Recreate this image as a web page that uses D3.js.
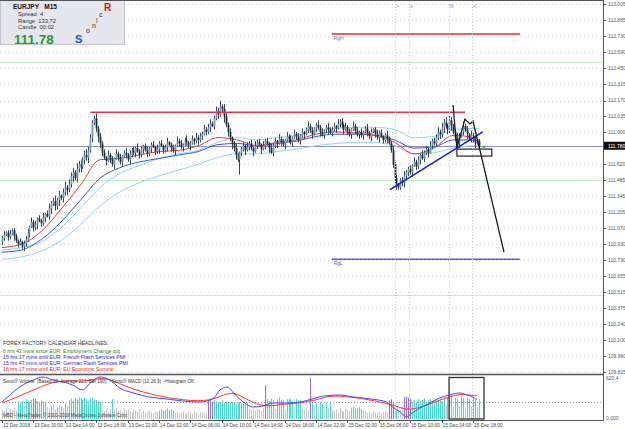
<!DOCTYPE html>
<html>
<head>
<meta charset="utf-8">
<script src="https://cdn.jsdelivr.net/npm/d3@7"></script>
<style>
  body { margin: 0; background: #fff; }
  svg { display: block; font-family: "Liberation Sans", Arial, sans-serif; }
</style>
</head>
<body>
<div id="chart"></div>
<script>
// EURJPY M15 closes, one per bar (bar 0 = left edge)
var firstOpen = 110.95;
var closes = [
  110.98,111.01,111.03,110.99,111.02,111.05,111.00,110.96,110.93,110.95,110.91,110.94,110.97,
  111.03,111.08,111.12,111.07,111.10,111.15,111.13,111.11,111.16,111.19,111.17,
  111.24,111.28,111.30,111.26,111.31,111.35,111.33,111.38,111.42,111.40,111.45,
  111.52,111.55,111.50,111.58,111.62,111.60,111.66,111.70,111.68,111.74,
  111.85,111.98,112.02,111.93,111.86,111.80,
  111.72,111.68,111.65,111.70,111.66,111.62,111.67,111.71,111.68,111.64,111.69,111.72,111.70,111.66,111.71,
  111.74,111.72,111.76,111.73,111.70,111.75,111.78,111.74,111.71,111.76,111.79,111.77,111.73,111.75,111.80,
  111.78,111.74,111.77,111.81,111.79,111.76,111.74,111.78,111.82,111.80,111.77,111.79,111.83,111.81,111.78,
  111.80,111.84,111.82,111.85,111.83,
  111.86,111.88,111.92,111.90,111.94,111.97,111.95,
  112.02,112.08,112.05,112.12,112.10,112.03,
  111.96,111.90,111.85,111.80,111.76,111.70,111.66,111.72,
  111.75,111.78,111.74,111.77,111.80,111.76,111.73,111.78,111.81,111.79,111.75,111.78,111.82,111.80,111.76,111.72,
  111.78,111.82,111.80,111.84,111.81,111.79,111.83,111.86,111.84,111.81,111.85,111.88,111.86,111.83,111.87,
  111.90,111.88,111.92,111.95,111.91,111.88,111.93,111.96,111.94,111.90,111.87,111.91,111.94,111.92,111.89,
  111.92,111.95,111.93,111.97,111.99,111.96,111.92,111.94,111.90,111.88,111.92,111.95,111.91,111.88,111.90,
  111.87,111.90,111.93,111.89,111.86,111.90,111.92,111.88,111.85,111.89,111.86,111.83,111.87,111.84,111.80,
  111.74,111.62,111.50,111.45,111.42,111.48,111.46,111.52,111.55,
  111.58,111.55,111.61,111.64,111.60,111.66,111.70,111.67,111.72,111.75,111.72,111.78,111.82,111.80,
  111.85,111.90,111.88,111.94,111.98,111.95,111.92,112.00,111.96,111.90,
  111.85,111.80,111.86,111.90,111.95,111.92,111.88,111.84,111.87,111.83,111.80,111.82,111.78
];
// wick lengths above / below the body, in 0.01 (base-36 digit per bar)
var upWick =
  "2312312213123" + "31423132413" + "42352413524" + "3425342453" + "322423" +
  "231423142312423" + "23142312412314231241231423124123142" + "3242342" + "243524" +
  "32312421" + "2314231423142314" + "231423142314231" + "312423124231242" +
  "231423142314231" + "312423124231242" + "242312342" + "23142314231423" +
  "3424352431" + "2431423142312";
var loWick =
  "3213214231243" + "24132413241" + "35243524352" + "3524352435" + "242354" +
  "324132413241324" + "32413241324132413241324132413241324" + "2313241" + "324235" +
  "2435342d" + "3241324132413241" + "324132413241324" + "241324132413241" +
  "324132413241324" + "241324132413241" + "234522343" + "32413241324132" +
  "3243524352" + "3241324132413";

// Sonic volume per bar and its colour class (g grey, t turquoise, p purple)
var volumes = [
  140,120,160,110,150,130,170,120,
  260,240,280,250,300,270,260,290,310,300,270,250,280,260,240,
  180,160,200,220,150,170,210,190,160,230,200,
  290,310,280,320,300,330,310,290,320,300,280,310,330,300,290,270,260,
  140,120,160,110,150,300,130,170,120,140,110,160,130,150,120,100,140,130,110,150,
  100,120,90,110,130,100,90,120,110,
  130,150,120,140,160,130,150,120,
  90,110,80,100,120,70,90,110,100,80,120,90,70,100,110,90,80,
  280,300,260,290,270,250,260,280,240,270,250,
  240,260,250,230,250,260,240,230,220,250,
  150,140,160,130,150,140,120,160,
  513,
  300,280,310,290,150,300,320,290,280,140,300,310,290,270,160,300,280,290,
  150,130,160,140,
  620,
  250,160,240,150,260,230,140,250,160,240,150,
  120,150,100,170,130,110,160,140,120,170,180,160,170,180,150,130,120,
  90,110,80,120,100,90,110,80,100,120,90,
  280,300,260,
  120,150,130,140,
  200,330,340,320,300,
  260,280,250,300,270,290,310,260,280,300,250,290,310,280,300,270,
  330,200,320,310,360,180,320,300,190,330,310,170,320,300,190,310,290,180,300
];
var volColors =
  "gggggggg" + "tttgttttppttttt" + "ggtggtgtgtg" + "ttttttttttttttttt" +
  "gggggtgggggggggggggg" + "ggggggggg" + "tttttttt" + "ggggggggggggggggg" +
  "ppptttttttt" + "tttttttttt" + "gggggggg" + "p" + "ttttgttttgttttgttt" +
  "gggg" + "p" + "tgtgttgtgtg" + "gggggggggttttttgg" + "ggggggggggg" +
  "ppp" + "gtgg" + "gpppp" + "tttttttttttttttt" + "tgtttgttgttgttgttgt";

var timeLabels = ["12 Dec 2018","13 Dec 10:00","13 Dec 14:00","13 Dec 18:00","13 Dec 22:00",
  "14 Dec 02:00","14 Dec 06:00","14 Dec 10:00","14 Dec 14:00","14 Dec 18:00","14 Dec 22:00",
  "15 Dec 02:00","15 Dec 06:00","15 Dec 10:00","15 Dec 14:00","15 Dec 18:00"];
var priceTicks = [113.005,112.865,112.730,112.590,112.450,112.315,112.170,112.035,111.900,
  111.620,111.485,111.345,111.205,111.070,110.930,110.790,110.655,110.515,110.375,110.240,
  110.100,109.960,109.825];
var lastPrice = 111.78;

// moving averages, read every 10 bars
var maBars = [0,10,20,30,40,50,60,70,80,90,100,110,120,130,140,150,160,170,180,190,200,210,220,230,240,243];
var redMA = [110.90,110.93,111.04,111.23,111.44,111.66,111.67,111.70,111.73,111.74,111.78,111.85,111.83,
  111.78,111.81,111.83,111.88,111.90,111.89,111.87,111.81,111.71,111.76,111.87,111.85,111.83];
var blueMA = [110.86,110.88,110.97,111.12,111.31,111.50,111.59,111.64,111.67,111.70,111.73,111.79,111.80,
  111.78,111.80,111.82,111.86,111.88,111.88,111.87,111.83,111.76,111.77,111.83,111.83,111.82];
var cyanUpper = [110.88,110.90,110.95,111.07,111.24,111.42,111.54,111.61,111.67,111.71,111.74,111.81,111.85,
  111.83,111.85,111.87,111.91,111.93,111.94,111.94,111.92,111.85,111.86,111.92,111.93,111.93];
var cyanLower = [110.80,110.82,110.87,110.96,111.10,111.26,111.38,111.46,111.52,111.57,111.62,111.68,111.71,
  111.71,111.73,111.75,111.78,111.80,111.81,111.81,111.78,111.71,111.72,111.76,111.78,111.78];

// MACD lines in the lower window
var macdBlueBars = [0,4,9,16,21,26,31,36,41,45,50,55,60,67,75,84,92,101,108,111,115,118,123,128,133,
  138,145,152,158,164,172,179,188,196,199,203,206,209,213,218,223,228,233,237,240,242];
var macdBlue = [-0.0125,0.005,0.025,0.0425,0.05,0.0425,0.0375,0.03,0.0175,0.035,0.05,0.0425,0.0225,0.01,0,
  -0.005,-0.01,-0.0125,-0.0025,0.0175,0.025,0.01,-0.0125,-0.025,-0.0225,-0.015,-0.015,-0.0125,-0.005,0.0025,
  0.005,0,-0.005,-0.0125,-0.025,-0.0375,-0.05,-0.04,-0.0275,-0.015,-0.0025,0.005,0.01,0.005,0,-0.0075];
var macdRedBars = [0,8,16,24,33,41,50,55,67,84,101,110,116,121,128,135,143,152,160,167,172,182,193,201,
  206,212,217,223,228,233,238,242];
var macdRed = [-0.015,0,0.0175,0.035,0.0425,0.0375,0.0475,0.045,0.0175,-0.0025,-0.0125,-0.0025,0.0125,0.005,
  -0.015,-0.025,-0.0175,-0.015,-0.0075,0.0025,0.0025,-0.0025,-0.0125,-0.0225,-0.0325,-0.0275,-0.02,-0.0075,
  0,0.0075,0.005,0.0025];

// drawn objects: [bar, price]
var resistanceLine = [[45,112.07],[236,112.07]];
var rgHLine = [[168,112.745],[264,112.745]];
var rgLLine = [[168,110.80],[264,110.80]];
var trendLine = [[197.7,111.40],[245,111.90]];
var zigzag = [[229.8,112.132],[231.8,111.76],[235.9,112.011],[238.5,111.968],[240,111.994],[255.8,110.862]];
var boxBars = [231.8,249.6], boxPrices = [111.751,111.691];
var greenDot = [245.6,111.77];
var pivotLevels = [112.50,111.48,110.49];
var sessionBars = [200.3,207.4,227.8,239.5];
var sessionMarks = [">","s","N","<"];
var volBoxBars = [227.8,245.6];

var headlines = [
  {t: "FOREX FACTORY CALENDAR  HEADLINES:", c: "#333"},
  {t: "6 hrs 43 mins since EUR: Employment Change q/q", c: "#2a8a2a"},
  {t: "15 hrs 17 mins until EUR: French Flash Services PMI", c: "#2a2ad0"},
  {t: "15 hrs 47 mins until EUR: German Flash Services PMI", c: "#2a2ad0"},
  {t: "16 hrs 17 mins until EUR: EU Economic Summit", c: "#e02020"}
];

var W = 625, H = 429, plotR = 603, priceBottom = 374, volTop = 376, volBottom = 420;

var svg = d3.select("#chart").append("svg").attr("width", W).attr("height", H);
svg.append("rect").attr("width", W).attr("height", H).attr("fill", "#fff");

var x = d3.scaleLinear().domain([0, 243]).range([2, 2 + 243 * 1.9625]);
var y = d3.scaleLinear().domain([109.825, 113.005]).range([372, 4]);
var yv = d3.scaleLinear().domain([0, 620.4]).range([419, 378]);
var ym = d3.scaleLinear().domain([-0.05, 0.05]).range([417, 377]);

var defs = svg.append("defs");
defs.append("clipPath").attr("id", "clipP").append("rect").attr("width", plotR).attr("height", priceBottom);
defs.append("clipPath").attr("id", "clipV").append("rect").attr("y", volTop).attr("width", plotR).attr("height", volBottom - volTop);

var gp = svg.append("g").attr("clip-path", "url(#clipP)");

// grid
gp.selectAll(".grid").data(priceTicks).enter().append("line")
  .attr("x1", 0).attr("x2", plotR)
  .attr("y1", function(d) { return Math.round(y(d)) + 0.5; })
  .attr("y2", function(d) { return Math.round(y(d)) + 0.5; })
  .attr("stroke", "#cfcfd8").attr("stroke-dasharray", "1,3");

// pivot-like light green levels
gp.selectAll(".pivot").data(pivotLevels).enter().append("line")
  .attr("x1", 0).attr("x2", plotR)
  .attr("y1", function(d) { return Math.round(y(d)) + 0.5; })
  .attr("y2", function(d) { return Math.round(y(d)) + 0.5; })
  .attr("stroke", "#c6ecc6");

// session separators
svg.selectAll(".sess").data(sessionBars).enter().append("line")
  .attr("x1", function(d) { return Math.round(x(d)) + 0.5; })
  .attr("x2", function(d) { return Math.round(x(d)) + 0.5; })
  .attr("y1", 1).attr("y2", volBottom)
  .attr("stroke", "#c8c8d6").attr("stroke-dasharray", "1,2");
svg.selectAll(".sessMark").data(sessionBars).enter().append("text")
  .attr("x", function(d) { return x(d) + 1; }).attr("y", 8)
  .attr("font-size", 5).attr("fill", "#8a6ad0")
  .text(function(d, i) { return sessionMarks[i]; });

// bid line
gp.append("line").attr("x1", 0).attr("x2", plotR)
  .attr("y1", Math.round(y(lastPrice)) + 0.5).attr("y2", Math.round(y(lastPrice)) + 0.5)
  .attr("stroke", "#8f8fc4");

// moving averages
var maLine = function(vals) {
  return d3.line().curve(d3.curveMonotoneX)
    .x(function(d, i) { return x(maBars[i]); })
    .y(function(d) { return y(d); })(vals);
};
[[cyanLower, "#8fd3f5"], [cyanUpper, "#8fd3f5"], [blueMA, "#3555e6"], [redMA, "#e8383c"]].forEach(function(s) {
  gp.append("path").attr("d", maLine(s[0])).attr("fill", "none").attr("stroke", s[1]).attr("stroke-width", 1);
});

// candles
var bars = closes.map(function(c, i) {
  var o = i === 0 ? firstOpen : closes[i - 1];
  return {
    i: i, o: o, c: c,
    h: Math.max(o, c) + parseInt(upWick[i], 36) / 100,
    l: Math.min(o, c) - parseInt(loWick[i], 36) / 100
  };
});
var cg = gp.append("g");
cg.selectAll(".wick").data(bars).enter().append("line")
  .attr("x1", function(d) { return Math.round(x(d.i)) + 0.5; })
  .attr("x2", function(d) { return Math.round(x(d.i)) + 0.5; })
  .attr("y1", function(d) { return y(d.h); })
  .attr("y2", function(d) { return y(d.l); })
  .attr("stroke", "#34465a").attr("stroke-width", 1);
cg.selectAll(".body").data(bars).enter().append("rect")
  .attr("x", function(d) { return Math.round(x(d.i)) - 0.4; })
  .attr("width", 1.8)
  .attr("y", function(d) { return y(Math.max(d.o, d.c)); })
  .attr("height", function(d) { return Math.max(1, Math.abs(y(d.o) - y(d.c))); })
  .attr("fill", function(d) { return d.c >= d.o ? "#7896b4" : "#1d2a36"; });

// drawn objects
var pl = d3.line().x(function(d) { return x(d[0]); }).y(function(d) { return y(d[1]); });
gp.append("path").attr("d", pl(resistanceLine)).attr("stroke", "#e8304a").attr("stroke-width", 1.5).attr("fill", "none");
gp.append("path").attr("d", pl(rgHLine)).attr("stroke", "#f06060").attr("stroke-width", 2).attr("fill", "none");
gp.append("path").attr("d", pl(rgLLine)).attr("stroke", "#5a5ad8").attr("stroke-width", 1.5).attr("fill", "none");
gp.append("text").attr("x", x(rgHLine[0][0]) + 2).attr("y", y(rgHLine[0][1]) + 6)
  .attr("font-size", 5).attr("fill", "#7a6aa8").text("RgH");
gp.append("text").attr("x", x(rgLLine[0][0]) + 2).attr("y", y(rgLLine[0][1]) + 6)
  .attr("font-size", 5).attr("fill", "#5a5ab8").text("RgL");
gp.append("path").attr("d", pl(trendLine)).attr("stroke", "#1a1ad0").attr("stroke-width", 1.5).attr("fill", "none");
gp.append("path").attr("d", pl(zigzag)).attr("stroke", "#111").attr("stroke-width", 1.2).attr("fill", "none");
gp.append("rect")
  .attr("x", x(boxBars[0])).attr("y", y(boxPrices[0]))
  .attr("width", x(boxBars[1]) - x(boxBars[0])).attr("height", y(boxPrices[1]) - y(boxPrices[0]))
  .attr("fill", "none").attr("stroke", "#222").attr("stroke-width", 1.2);
gp.append("circle").attr("cx", x(greenDot[0])).attr("cy", y(greenDot[1])).attr("r", 1.5).attr("fill", "#22cc22");

// info box
var info = svg.append("g");
info.append("rect").attr("x", 0.5).attr("y", 0.5).attr("width", 124).attr("height", 44)
  .attr("fill", "#e6e6ef").attr("stroke", "#c4c4d4");
info.append("text").attr("x", 13).attr("y", 9).attr("font-size", 6.5).attr("font-weight", "bold")
  .attr("fill", "#111").style("white-space", "pre").text("EURJPY   M15");
[["Spread  4", 16], ["Range  133,72", 22.5], ["Candle  00:02", 29]].forEach(function(r) {
  info.append("text").attr("x", 18).attr("y", r[1]).attr("font-size", 5.8).attr("fill", "#333")
    .style("white-space", "pre").text(r[0]);
});
info.append("text").attr("x", 14).attr("y", 43.5).attr("font-size", 13.5).attr("font-weight", "bold")
  .attr("fill", "#2c9a2c").text(d3.format(".2f")(lastPrice));
[["S", 75, 43, 11, "#2b4ad8", "bold"], ["o", 86, 33, 7, "#333", "normal"], ["n", 92, 28, 7, "#333", "normal"],
 ["i", 96, 23, 7, "#333", "normal"], ["c", 99, 17, 7, "#333", "normal"], ["R", 104, 11, 10, "#ee1111", "bold"]]
  .forEach(function(l) {
    info.append("text").attr("x", l[1]).attr("y", l[2]).attr("font-size", l[3]).attr("fill", l[4])
      .attr("font-weight", l[5]).text(l[0]);
  });

// headlines
svg.selectAll(".hl").data(headlines).enter().append("text")
  .attr("x", 3).attr("y", function(d, i) { return [345, 353, 359, 365, 371][i]; })
  .attr("font-size", 5.2).attr("fill", function(d) { return d.c; })
  .text(function(d) { return d.t; });

// lower window: volume + MACD
var gv = svg.append("g").attr("clip-path", "url(#clipV)");
gv.selectAll(".vol").data(volumes).enter().append("rect")
  .attr("x", function(d, i) { return Math.round(x(i)); })
  .attr("width", 1.1)
  .attr("y", function(d) { return yv(d); })
  .attr("height", function(d) { return yv(0) - yv(d); })
  .attr("fill", function(d, i) {
    return { g: "#c8c8c8", t: "#46dccc", p: "#9474d8" }[volColors[i]];
  });
gv.append("line").attr("x1", 0).attr("x2", plotR).attr("y1", 402.5).attr("y2", 402.5)
  .attr("stroke", "#999").attr("stroke-dasharray", "1,2");
gv.append("path").attr("fill", "none").attr("stroke", "#ff3333").attr("stroke-width", 1)
  .attr("d", d3.line().curve(d3.curveBasis)
    .x(function(d, i) { return x(macdRedBars[i]); }).y(function(d) { return ym(d); })(macdRed));
gv.append("path").attr("fill", "none").attr("stroke", "#4646ff").attr("stroke-width", 1)
  .attr("d", d3.line().curve(d3.curveMonotoneX)
    .x(function(d, i) { return x(macdBlueBars[i]); }).y(function(d) { return ym(d); })(macdBlue));
gv.append("rect").attr("x", x(volBoxBars[0])).attr("y", 377.5)
  .attr("width", x(volBoxBars[1]) - x(volBoxBars[0])).attr("height", 41.5)
  .attr("fill", "none").attr("stroke", "#333").attr("stroke-width", 1.3);
svg.append("text").attr("x", 3).attr("y", 383).attr("font-size", 4.6).attr("fill", "#333")
  .style("white-space", "pre")
  .text("Sonic\u00ae Volume  (Based 20, Average 223, Bar 190)  - Sonic\u00ae MACD (12,26,9)  -Histogram Off.");
svg.append("text").attr("x", 3).attr("y", 417).attr("font-size", 4.6).attr("fill", "#444")
  .text("MBD - MetaTrader, \u00a9 2001-2018 MetaQuotes Software Corp.");

// frames
svg.append("line").attr("x1", 0).attr("x2", plotR).attr("y1", 0.5).attr("y2", 0.5).attr("stroke", "#555");
svg.append("line").attr("x1", 0).attr("x2", plotR).attr("y1", 374.5).attr("y2", 374.5).attr("stroke", "#555").attr("stroke-width", 1.5);
svg.append("line").attr("x1", 0).attr("x2", plotR).attr("y1", 420.5).attr("y2", 420.5).attr("stroke", "#555");
svg.append("line").attr("x1", plotR + 0.5).attr("x2", plotR + 0.5).attr("y1", 0).attr("y2", 421).attr("stroke", "#555");

// price axis
var ax = svg.append("g");
ax.selectAll(".tk").data(priceTicks).enter().append("line")
  .attr("x1", plotR).attr("x2", plotR + 3)
  .attr("y1", function(d) { return Math.round(y(d)) + 0.5; })
  .attr("y2", function(d) { return Math.round(y(d)) + 0.5; })
  .attr("stroke", "#555");
ax.selectAll(".tl").data(priceTicks).enter().append("text")
  .attr("x", plotR + 5).attr("y", function(d) { return y(d) + 1.8; })
  .attr("font-size", 5).attr("fill", "#555")
  .text(function(d) { return d3.format(".3f")(d); });
ax.append("rect").attr("x", plotR + 1).attr("y", y(lastPrice) - 4).attr("width", 22).attr("height", 8).attr("fill", "#111");
ax.append("text").attr("x", plotR + 5).attr("y", y(lastPrice) + 2).attr("font-size", 5).attr("fill", "#fff")
  .text(d3.format(".3f")(lastPrice));
ax.append("text").attr("x", plotR + 3).attr("y", 380).attr("font-size", 5).attr("fill", "#555").text("620.4");
ax.append("text").attr("x", plotR + 3).attr("y", 419.5).attr("font-size", 5).attr("fill", "#555").text("0.000");

// time axis
var tg = svg.append("g");
tg.selectAll(".tt").data(timeLabels).enter().append("line")
  .attr("x1", function(d, i) { return Math.round(x(i * 16)) + 0.5; })
  .attr("x2", function(d, i) { return Math.round(x(i * 16)) + 0.5; })
  .attr("y1", 420).attr("y2", 423).attr("stroke", "#555");
tg.selectAll(".tx").data(timeLabels).enter().append("text")
  .attr("x", function(d, i) { return x(i * 16) + 1; }).attr("y", 427)
  .attr("font-size", 4.8).attr("fill", "#444")
  .text(function(d) { return d; });
</script>
</body>
</html>
